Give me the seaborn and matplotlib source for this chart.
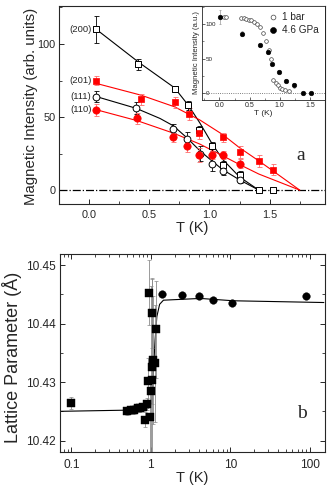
import matplotlib
matplotlib.use("Agg")
import matplotlib.pyplot as plt
from matplotlib.ticker import MultipleLocator, FixedLocator, LogLocator, NullFormatter
import seaborn as sns

# ---- panel a: magnetic intensity vs T ----
t200 = [0.06, 0.41, 0.71, 0.82, 0.91, 1.02, 1.11, 1.25, 1.41, 1.53]
i200 = [110, 86, 69, 58, 41, 30, 17, 10, 0, 0]
e200 = [9, 4, 2, 3, 3, 3, 3, 3, 0, 0]

t111 = [0.06, 0.39, 0.70, 0.81, 0.92, 1.02, 1.11, 1.25]
i111 = [64, 56, 42, 35, 25, 18, 13, 7]
e111 = [4, 4, 3, 5, 5, 5, 3, 2]

t201 = [0.06, 0.43, 0.71, 0.83, 0.91, 1.11, 1.25, 1.41, 1.53]
i201 = [75, 62, 60, 52, 39, 36, 26, 20, 14]
e201 = [3, 4, 4, 4, 4, 3, 4, 4, 4]

t110 = [0.06, 0.40, 0.70, 0.81, 0.91, 1.02, 1.11, 1.25]
i110 = [55, 49, 36, 30, 24, 24, 24, 18]
e110 = [4, 4, 3, 4, 5, 3, 3, 3]

# fit curves
fit200_t = [0.06, 0.42, 0.71, 0.825, 0.92, 1.02, 1.11, 1.25, 1.41]
fit200_i = [110, 87, 70, 58, 46, 32, 21, 9, 0]
fit111_t = [0.06, 0.39, 0.59, 0.70, 0.81, 0.92, 1.02, 1.11, 1.25, 1.41]
fit111_i = [64, 56, 49, 44, 36, 27, 20, 14, 7, 0]
fit201_t = [0.06, 0.43, 0.71, 0.92, 1.11, 1.25, 1.41, 1.53, 1.75]
fit201_i = [73, 65, 57, 48, 38, 29, 20, 13, 0]
fit110_t = [0.06, 0.40, 0.70, 0.92, 1.11, 1.25, 1.41, 1.75]
fit110_i = [55, 47.5, 39, 31.5, 23.5, 17.5, 11, 0]

peak_labels = ["(200)", "(201)", "(111)", "(110)"]

# ---- inset ----
t_1bar = [0.07, 0.11, 0.36, 0.40, 0.44, 0.49, 0.53, 0.57, 0.62, 0.67, 0.72,
          0.77, 0.82, 0.85, 0.89, 0.93, 0.97, 1.00, 1.04, 1.09, 1.15]
i_1bar = [110, 110, 108, 108, 107, 106, 105, 103, 100, 96, 87,
          76, 62, 50, 19, 14, 11, 8, 6, 4, 3]
t_46 = [0.01, 0.37, 0.67, 0.80, 0.87, 0.99, 1.10, 1.23, 1.39, 1.52]
i_46 = [110, 86, 69, 59, 42, 31, 18, 11, 0, 0]
e_46 = [10, 4, 2, 2, 2, 2, 2, 3, 0, 0]

# ---- panel b: lattice parameter vs T ----
sq_t = [0.10, 0.50, 0.56, 0.62, 0.68, 0.73, 0.79, 0.84, 0.90, 0.93, 0.96,
        0.98, 1.00, 1.02, 1.03, 1.04, 1.06, 1.13, 1.17]
sq_a = [10.4264, 10.4251, 10.4252, 10.4253, 10.4256, 10.4256, 10.4258, 10.4236,
        10.4263, 10.4301, 10.4453, 10.4241, 10.4284, 10.4303, 10.4326, 10.4418,
        10.4338, 10.4332, 10.4390]
sq_e = [0.0010, 0.0007, 0.0007, 0.0007, 0.0007, 0.0007, 0.0007, 0.0012, 0.0010,
        0.0040, 0.0055, 0.0060, 0.0180, 0.0040, 0.0150, 0.0060, 0.0110, 0.0100,
        0.0083]
circ_t = [1.40, 2.5, 4.0, 6.0, 10.5, 90]
circ_a = [10.4450, 10.4449, 10.4448, 10.4440, 10.4436, 10.4447]
fitb_t = [0.072, 0.5, 0.81, 0.95, 1.03, 1.08, 1.13, 1.19, 1.29, 1.44, 4.2, 10.9, 150]
fitb_a = [10.4250, 10.4252, 10.4254, 10.4256, 10.4264, 10.4321, 10.4372, 10.4412,
          10.4433, 10.4440, 10.4443, 10.4439, 10.4436]

sns.set_style("ticks")
plt.rcParams["font.family"] = ["Liberation Sans", "DejaVu Sans"]
plt.rcParams["axes.linewidth"] = 0.8
plt.rcParams["xtick.direction"] = "in"
plt.rcParams["ytick.direction"] = "in"

RED = "#ff0000"
RED_ERR = "#ff6a6a"

fig = plt.figure(figsize=(3.32, 4.98), dpi=100)

# ================= panel a =================
ax = fig.add_axes([0.1777, 0.5904, 0.8012, 0.3976])
ax.axhline(0, color="black", lw=0.9, ls="-.", zorder=1)

sns.lineplot(x=fit200_t, y=fit200_i, sort=False, estimator=None, color="black", lw=0.8, ax=ax)
sns.lineplot(x=fit111_t, y=fit111_i, sort=False, estimator=None, color="black", lw=0.8, ax=ax)
sns.lineplot(x=fit201_t, y=fit201_i, sort=False, estimator=None, color=RED, lw=0.8, ax=ax)
sns.lineplot(x=fit110_t, y=fit110_i, sort=False, estimator=None, color=RED, lw=0.8, ax=ax)

ax.errorbar(t200, i200, yerr=e200, fmt="none", ecolor="black", elinewidth=0.6, capsize=1.8, capthick=0.6, zorder=2)
ax.errorbar(t111, i111, yerr=e111, fmt="none", ecolor="black", elinewidth=0.6, capsize=1.8, capthick=0.6, zorder=2)
ax.errorbar(t201, i201, yerr=e201, fmt="none", ecolor=RED_ERR, elinewidth=0.6, capsize=1.8, capthick=0.6, zorder=2)
ax.errorbar(t110, i110, yerr=e110, fmt="none", ecolor=RED_ERR, elinewidth=0.6, capsize=1.8, capthick=0.6, zorder=2)

sns.scatterplot(x=t200, y=i200, marker="s", s=22, color="white", edgecolor="black", linewidth=0.7, ax=ax, zorder=3)
sns.scatterplot(x=t111, y=i111, marker="o", s=24, color="white", edgecolor="black", linewidth=0.7, ax=ax, zorder=3)
sns.scatterplot(x=t201, y=i201, marker="s", s=24, color=RED, edgecolor=RED, linewidth=0.5, ax=ax, zorder=3)
sns.scatterplot(x=t110, y=i110, marker="o", s=28, color=RED, edgecolor=RED, linewidth=0.5, ax=ax, zorder=3)

for lab, tt, ii in zip(peak_labels, [t200[0], t201[0], t111[0], t110[0]],
                       [i200[0], i201[0], i111[0], i110[0]]):
    ax.annotate(lab, (tt, ii), xytext=(-3.5, 0), textcoords="offset points",
                ha="right", va="center", fontsize=6.8)

ax.text(1.76, 24, "a", fontsize=14, family=["Liberation Serif", "DejaVu Serif"],
        ha="center", va="center")

ax.set_xlim(-0.25, 1.96)
ax.set_ylim(-9.5, 126)
ax.xaxis.set_major_locator(MultipleLocator(0.5))
ax.xaxis.set_minor_locator(MultipleLocator(0.25))
ax.yaxis.set_major_locator(FixedLocator([0, 50, 100]))
ax.yaxis.set_minor_locator(MultipleLocator(25))
ax.xaxis.set_major_formatter(matplotlib.ticker.FormatStrFormatter("%.1f"))
ax.tick_params(which="major", length=3.5, width=0.7, labelsize=7.8)
ax.tick_params(which="minor", length=2, width=0.6)
ax.tick_params(axis="x", pad=4.5)
ax.tick_params(axis="y", pad=2.5)
ax.set_xlabel("T (K)", fontsize=10.5)
ax.set_ylabel("Magnetic Intensity (arb. units)", fontsize=10.8)
ax.xaxis.set_label_coords(0.5, -0.085)
ax.yaxis.set_label_coords(-0.08, 0.495)

# ================= inset =================
axi = fig.add_axes([0.6084, 0.7992, 0.3705, 0.1888])
axi.set_facecolor("white")
axi.axhline(0, color="#555555", lw=0.6, ls=":", zorder=1)
axi.errorbar(t_46, i_46, yerr=e_46, fmt="none", ecolor="#999999", elinewidth=0.5, capsize=1, capthick=0.5, zorder=2)
sns.scatterplot(x=t_1bar, y=i_1bar, marker="o", s=7, color="white", edgecolor="#444444",
                linewidth=0.5, ax=axi, zorder=3, label="1 bar")
sns.scatterplot(x=t_46, y=i_46, marker="o", s=11, color="black", edgecolor="black",
                linewidth=0.4, ax=axi, zorder=3, label="4.6 GPa")
axi.set_xlim(-0.29, 1.75)
axi.set_ylim(-10, 126)
axi.xaxis.set_major_locator(MultipleLocator(0.5))
axi.xaxis.set_minor_locator(MultipleLocator(0.25))
axi.yaxis.set_major_locator(FixedLocator([0, 50, 100]))
axi.yaxis.set_minor_locator(MultipleLocator(25))
axi.xaxis.set_major_formatter(matplotlib.ticker.FormatStrFormatter("%.1f"))
axi.tick_params(which="major", length=2, width=0.5, labelsize=5)
axi.tick_params(which="minor", length=1.2, width=0.4)
axi.tick_params(axis="x", pad=1.5)
axi.tick_params(axis="y", pad=-2.5, labelsize=4.5)
for lab in axi.get_yticklabels():
    lab.set_horizontalalignment("left")
for sp in axi.spines.values():
    sp.set_linewidth(0.6)
axi.set_xlabel("T (K)", fontsize=6, labelpad=0.5)
axi.set_ylabel("Magnetic Intensity (a.u.)", fontsize=5.6)
axi.yaxis.set_label_coords(-0.015, 0.5)
axi.legend(loc="upper right", frameon=False, fontsize=7.2, handletextpad=0.3,
           borderaxespad=0.2, labelspacing=0.3, markerscale=1.3, handlelength=1.2)

# ================= panel b =================
axb = fig.add_axes([0.1807, 0.0930, 0.7982, 0.397])
axb.set_xscale("log")
sns.lineplot(x=fitb_t, y=fitb_a, sort=False, estimator=None, color="black", lw=0.8, ax=axb)
axb.errorbar(sq_t, sq_a, yerr=sq_e, fmt="none", ecolor="#8a8a8a", elinewidth=0.6, capsize=1.5, capthick=0.5, zorder=2)
sns.scatterplot(x=sq_t, y=sq_a, marker="s", s=26, color="black", edgecolor="black", linewidth=0.3, ax=axb, zorder=3)
sns.scatterplot(x=circ_t, y=circ_a, marker="o", s=30, color="black", edgecolor="black", linewidth=0.3, ax=axb, zorder=3)
axb.text(79, 10.4247, "b", fontsize=14, family=["Liberation Serif", "DejaVu Serif"],
         ha="center", va="center")

axb.set_xlim(0.072, 155)
axb.set_ylim(10.4181, 10.4519)
axb.xaxis.set_major_locator(FixedLocator([0.1, 1, 10, 100]))
axb.xaxis.set_major_formatter(matplotlib.ticker.FixedFormatter(["0.1", "1", "10", "100"]))
axb.xaxis.set_minor_locator(LogLocator(base=10, subs=range(2, 10)))
axb.xaxis.set_minor_formatter(NullFormatter())
axb.yaxis.set_major_locator(FixedLocator([10.42, 10.43, 10.44, 10.45]))
axb.yaxis.set_major_formatter(matplotlib.ticker.FormatStrFormatter("%.2f"))
axb.yaxis.set_minor_locator(MultipleLocator(0.005))
axb.tick_params(which="both", top=True, right=True)
axb.tick_params(which="major", length=3.5, width=0.7, labelsize=8.6)
axb.tick_params(which="minor", length=2, width=0.6)
axb.tick_params(axis="x", pad=5.5)
axb.tick_params(axis="y", pad=3)
axb.set_xlabel("T (K)", fontsize=10.5)
axb.set_ylabel("Lattice Parameter (Å)", fontsize=13)
axb.xaxis.set_label_coords(0.5, -0.1)
axb.yaxis.set_label_coords(-0.145, 0.476)

fig.savefig("out.png", dpi=100)
